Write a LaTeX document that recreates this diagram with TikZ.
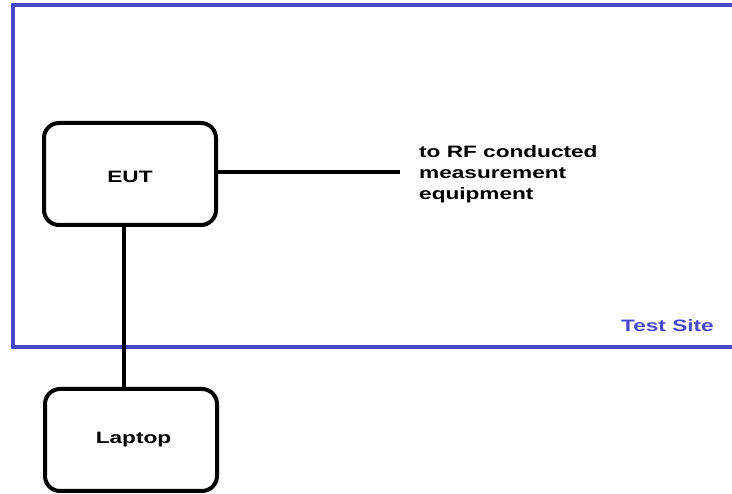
\documentclass[tikz,border=0pt]{standalone}
\usepackage{fontspec}
\setmainfont{Liberation Sans}[FakeStretch=1.37]
\definecolor{siteblue}{RGB}{70,72,205}
\begin{document}
\begin{tikzpicture}[x=1pt,y=-1pt,
  devbox/.style={draw=black,line width=4pt,rounded corners=15pt,minimum width=172pt,minimum height=102pt,inner sep=0pt,font=\fontsize{16.5}{20}\selectfont\bfseries},
  wire/.style={draw=black,line width=4pt}]
\useasboundingbox (0,0) rectangle (732,494);
\clip (0,0) rectangle (732,494);
\fill[white] (0,0) rectangle (732,494);
\draw[siteblue,line width=4pt] (12.5,5) rectangle (780,347.5);
\node[text=siteblue,font=\fontsize{16.5}{20}\selectfont\bfseries,anchor=base west,inner sep=0pt] (site) at (621,331.5) {Test Site};
\node[devbox] (eut) at (130,174) {\raisebox{-8.4pt}[0pt][0pt]{EUT}};
\node[devbox] (laptop) at (131,440) {\hspace*{5pt}Laptop};
\coordinate (rfend) at (400,172);
\draw[wire] (eut.east |- rfend) -- (rfend);
\draw[wire] ([xshift=-6pt]eut.south) -- ([xshift=-6pt]eut.south |- laptop.north);
\node[anchor=north west,inner sep=0pt,align=left,font=\fontsize{16.5}{21}\selectfont\bfseries] (rf) at (419,145) {to RF conducted\\measurement\\equipment};
\end{tikzpicture}
\end{document}
